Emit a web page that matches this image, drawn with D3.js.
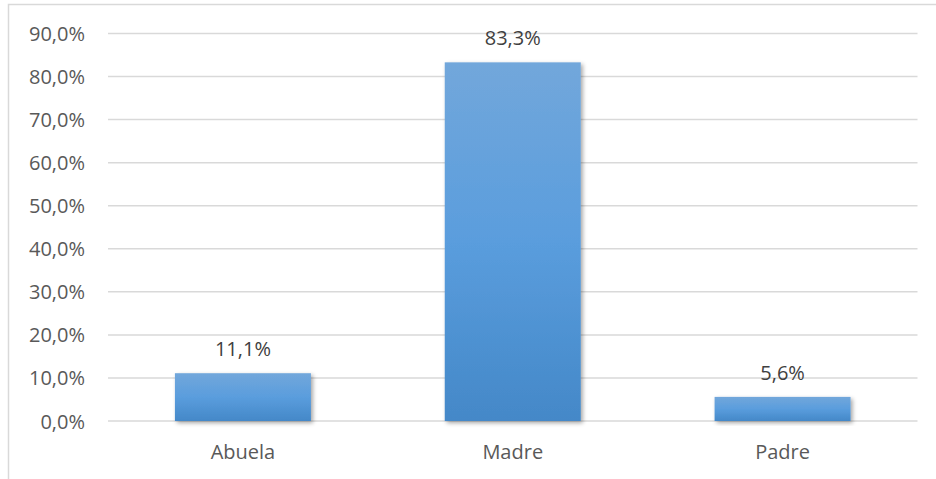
<!DOCTYPE html>
<html>
<head>
<meta charset="utf-8">
<script src="https://cdn.jsdelivr.net/npm/d3@7"></script>
<style>
  html, body { margin: 0; padding: 0; background: #fff; }
  svg { display: block; }
  text { font-family: "Open Sans", sans-serif; }
</style>
</head>
<body>
<div id="chart"></div>
<script>
const categories = ["Abuela", "Madre", "Padre"];
const values = [11.1, 83.3, 5.6];
const valueLabels = ["11,1%", "83,3%", "5,6%"];
const tickValues = [0, 10, 20, 30, 40, 50, 60, 70, 80, 90];
const tickLabels = ["0,0%", "10,0%", "20,0%", "30,0%", "40,0%", "50,0%", "60,0%", "70,0%", "80,0%", "90,0%"];

const W = 936, H = 479;
const svg = d3.select("#chart").append("svg").attr("width", W).attr("height", H);

const defs = svg.append("defs");
const grad = defs.append("linearGradient").attr("id", "barGrad")
  .attr("x1", 0).attr("y1", 0).attr("x2", 0).attr("y2", 1);
grad.append("stop").attr("offset", "0%").attr("stop-color", "#72a7db");
grad.append("stop").attr("offset", "50%").attr("stop-color", "#5a9ddd");
grad.append("stop").attr("offset", "100%").attr("stop-color", "#4488c8");

const filt = defs.append("filter").attr("id", "shadow")
  .attr("x", "-20%").attr("y", "-20%").attr("width", "140%").attr("height", "140%");
filt.append("feDropShadow").attr("dx", 2).attr("dy", 2).attr("stdDeviation", 2)
  .attr("flood-color", "#000").attr("flood-opacity", 0.35);

// chart border (top & left visible)
svg.append("path")
  .attr("d", "M8.5,479 L8.5,4.5 L936,4.5")
  .attr("fill", "none").attr("stroke", "#d9d9d9").attr("stroke-width", 1.5);

const x = d3.scaleBand().domain(categories).range([108, 917.5])
  .paddingInner(0.496).paddingOuter(0.248);
const y = d3.scaleLinear().domain([0, 90]).range([421, 33.5]);

// gridlines
svg.append("g").selectAll("line").data(tickValues).join("line")
  .attr("x1", 108).attr("x2", 917.5)
  .attr("y1", d => y(d)).attr("y2", d => y(d))
  .attr("stroke", "#d9d9d9").attr("stroke-width", 1.5);

// y labels
svg.append("g").selectAll("text").data(tickValues).join("text")
  .attr("x", 85).attr("y", d => y(d) + 7.5)
  .attr("text-anchor", "end")
  .attr("font-size", "20px").attr("fill", "#595959")
  .text((d, i) => tickLabels[i]);

// bars
svg.append("g").selectAll("rect").data(values).join("rect")
  .attr("x", (d, i) => x(categories[i]))
  .attr("width", x.bandwidth())
  .attr("y", d => y(d))
  .attr("height", d => y(0) - y(d))
  .attr("fill", "url(#barGrad)")
  .attr("filter", "url(#shadow)");

// value labels
svg.append("g").selectAll("text").data(values).join("text")
  .attr("x", (d, i) => x(categories[i]) + x.bandwidth() / 2)
  .attr("y", d => y(d) - 17)
  .attr("text-anchor", "middle")
  .attr("font-size", "20px").attr("fill", "#404040")
  .text((d, i) => valueLabels[i]);

// category labels
svg.append("g").selectAll("text").data(categories).join("text")
  .attr("x", d => x(d) + x.bandwidth() / 2)
  .attr("y", 459)
  .attr("text-anchor", "middle")
  .attr("font-size", "20px").attr("fill", "#595959")
  .text(d => d);
</script>
</body>
</html>
